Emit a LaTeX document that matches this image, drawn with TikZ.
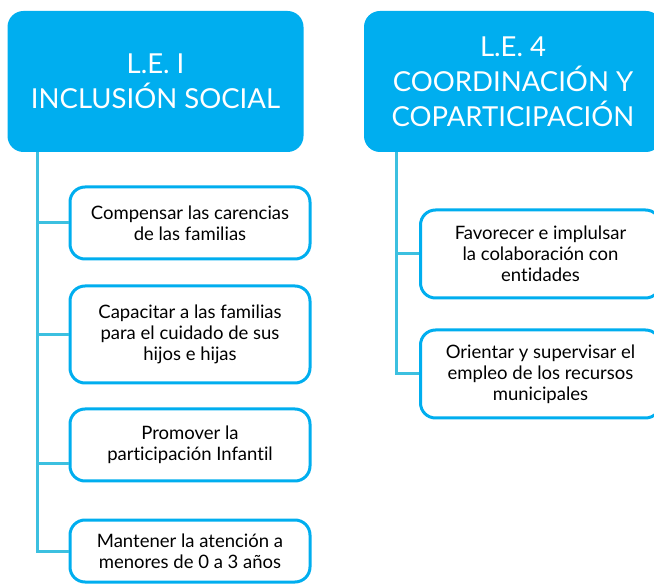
\documentclass[tikz,border=0pt]{standalone}
\usepackage{fontspec}
\setmainfont{Lato}[Ligatures=NoCommon]
\definecolor{lecyan}{HTML}{00AEEF}
\definecolor{lelink}{HTML}{3CC0E0}

\begin{document}
\begin{tikzpicture}[x=1pt,y=-1pt,
  head/.style={fill=lecyan,rounded corners=16pt,text=white,align=center,
    font=\fontsize{27.5}{35}\selectfont,minimum width=296pt,minimum height=141pt,inner sep=0pt},
  item/.style={draw=lecyan,line width=3pt,fill=white,rounded corners=15pt,align=center,
    minimum width=240pt,font=\fontsize{18.5}{21}\selectfont,inner sep=0pt},
  link/.style={draw=lelink,line width=3pt}]
  \useasboundingbox (0,0) rectangle (654,585);

  % linea 1
  \node[head] (h1) at (155.5,81.5) {L.E. I\\INCLUSIÓN SOCIAL};
  \coordinate (t1) at (37,152);
  \node[item,minimum height=72pt] (c1) at (190,223) {Compensar las carencias\\de las familias};
  \node[item,minimum height=97pt] (c2) at (190,334.5) {Capacitar a las familias\\para el cuidado de sus\\hijos e hijas};
  \node[item,minimum height=72pt] (c3) at (190,445) {Promover la\\participación Infantil};
  \node[item,minimum height=62pt] (c4) at (190,551) {Mantener la atención a\\menores de 0 a 3 años};

  \draw[link] (t1) |- (c1.west);
  \draw[link] (t1) |- (c2.west);
  \draw[link] (t1) |- ([yshift=-19pt]c3.west);
  \draw[link] (t1) |- (c4.west);

  % linea 4
  \node[head,minimum width=298pt] (h4) at (513,81.5) {L.E. 4\\COORDINACIÓN Y\\COPARTICIPACIÓN};
  \coordinate (t4) at (396,152);
  \node[item,minimum height=88pt] (c5) at (540.5,254) {Favorecer e implulsar\\la colaboración con\\entidades};
  \node[item,minimum height=88pt] (c6) at (540.5,374) {Orientar y supervisar el\\empleo de los recursos\\municipales};

  \draw[link] (t4) |- (c5.west);
  \draw[link] (t4) |- (c6.west);

\end{tikzpicture}
\end{document}
